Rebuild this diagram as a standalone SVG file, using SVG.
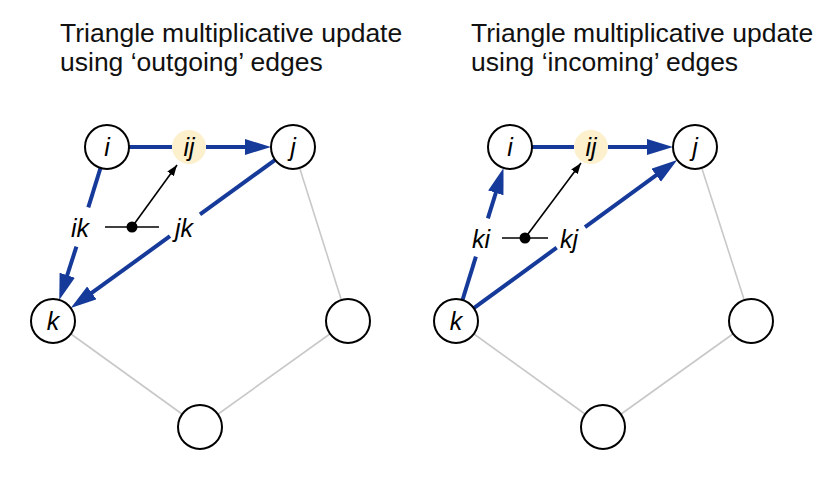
<svg xmlns="http://www.w3.org/2000/svg" width="837" height="490" viewBox="0 0 837 490">
<style>
.title{font-family:"Liberation Sans",Arial,sans-serif;font-size:26.5px;fill:#111}
.lbl{font-family:"Liberation Sans",Arial,sans-serif;font-size:25px;font-style:italic;fill:#000;text-anchor:middle}
.node{fill:#fff;stroke:#000;stroke-width:2}
.mid{fill:#fdf0cc;stroke:none}
.gray{stroke:#c8c8c8;stroke-width:1.6;fill:none}
.blue{stroke:#163a9a;stroke-width:4;fill:none}
.thin{stroke:#000;stroke-width:1.6;fill:none}
</style>
<defs>
<marker id="ab" markerUnits="userSpaceOnUse" markerWidth="28" markerHeight="18" refX="4" refY="8" orient="auto" viewBox="0 0 28 18">
<path d="M0,0 L26,8 L0,16 z" fill="#163a9a"/>
</marker>
<marker id="ak" markerUnits="userSpaceOnUse" markerWidth="12" markerHeight="10" refX="11" refY="4" orient="auto" viewBox="0 0 12 10">
<path d="M0,0 L11,4 L0,8 z" fill="#000"/>
</marker>
</defs>
<rect width="837" height="490" fill="#fff"/>
<text class="title" x="60" y="42">Triangle multiplicative update</text>
<text class="title" x="60" y="71">using ‘outgoing’ edges</text>
<text class="title" x="471" y="42">Triangle multiplicative update</text>
<text class="title" x="471" y="71">using ‘incoming’ edges</text>
<g id="connectors">
<line class="gray" x1="293" y1="147" x2="348" y2="321"/>
<line class="gray" x1="53" y1="321" x2="200" y2="427"/>
<line class="gray" x1="348" y1="321" x2="200" y2="427"/>
<line class="gray" x1="695" y1="147" x2="751" y2="321"/>
<line class="gray" x1="456" y1="321" x2="603" y2="427"/>
<line class="gray" x1="751" y1="321" x2="603" y2="427"/>
<line class="blue" x1="129" y1="147" x2="172" y2="147"/>
<line class="blue" x1="206" y1="147" x2="249" y2="147" marker-end="url(#ab)"/>
<line class="blue" x1="100.5" y1="168" x2="88.3" y2="207.3"/>
<line class="blue" x1="76.4" y1="246.7" x2="66" y2="279" marker-end="url(#ab)"/>
<line class="blue" x1="275.2" y1="159.9" x2="200" y2="214.4"/>
<line class="blue" x1="170" y1="236.2" x2="88.6" y2="295.2" marker-end="url(#ab)"/>
<line class="thin" x1="105" y1="227" x2="159" y2="227"/>
<line class="thin" x1="132" y1="227" x2="177" y2="165" marker-end="url(#ak)"/>
<circle cx="132" cy="227" r="5.5" fill="#000"/>
<line class="blue" x1="532" y1="147" x2="574" y2="147"/>
<line class="blue" x1="608" y1="147" x2="651" y2="147" marker-end="url(#ab)"/>
<line class="blue" x1="462.5" y1="300" x2="475.9" y2="256.7"/>
<line class="blue" x1="487.9" y1="218.3" x2="497" y2="189" marker-end="url(#ab)"/>
<line class="blue" x1="473.8" y1="308.1" x2="556.7" y2="247.7"/>
<line class="blue" x1="585" y1="227.1" x2="659.4" y2="172.9" marker-end="url(#ab)"/>
<line class="thin" x1="502" y1="238" x2="548" y2="238"/>
<line class="thin" x1="525" y1="238" x2="581" y2="163" marker-end="url(#ak)"/>
<circle cx="525" cy="238" r="5.5" fill="#000"/>
<text class="lbl" x="80" y="237">ik</text>
<text class="lbl" x="184" y="237">jk</text>
<text class="lbl" x="481" y="248">ki</text>
<text class="lbl" x="569" y="248">kj</text>
</g>
<g id="L-i"><circle class="node" cx="107" cy="147" r="22"/><text class="lbl" x="107" y="156">i</text></g>
<g id="L-ij"><circle class="mid" cx="189" cy="147" r="17"/><text class="lbl" x="189" y="156">ij</text></g>
<g id="L-j"><circle class="node" cx="293" cy="147" r="22"/><text class="lbl" x="293" y="156">j</text></g>
<g id="L-k"><circle class="node" cx="53" cy="321" r="22"/><text class="lbl" x="53" y="330">k</text></g>
<g id="L-r"><circle class="node" cx="348" cy="321" r="22"/></g>
<g id="L-b"><circle class="node" cx="200" cy="427" r="22"/></g>
<g id="R-i"><circle class="node" cx="510" cy="147" r="22"/><text class="lbl" x="510" y="156">i</text></g>
<g id="R-ij"><circle class="mid" cx="591" cy="147" r="17"/><text class="lbl" x="591" y="156">ij</text></g>
<g id="R-j"><circle class="node" cx="695" cy="147" r="22"/><text class="lbl" x="695" y="156">j</text></g>
<g id="R-k"><circle class="node" cx="456" cy="321" r="22"/><text class="lbl" x="456" y="330">k</text></g>
<g id="R-r"><circle class="node" cx="751" cy="321" r="22"/></g>
<g id="R-b"><circle class="node" cx="603" cy="427" r="22"/></g>
</svg>
